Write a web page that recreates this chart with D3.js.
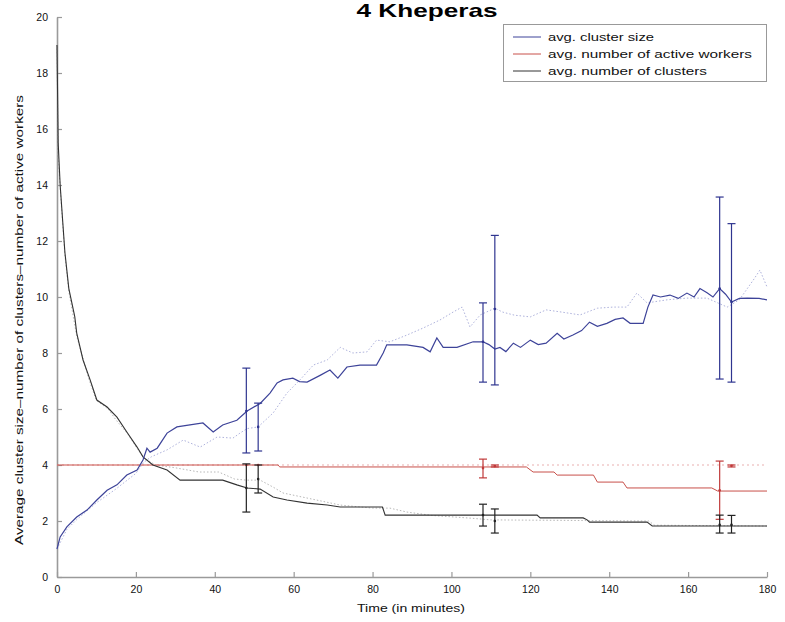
<!DOCTYPE html>
<html>
<head>
<meta charset="utf-8">
<script src="https://cdn.jsdelivr.net/npm/d3@7"></script>
<style>
  html, body { margin: 0; padding: 0; background: #fff; }
  svg { display: block; font-family: "Liberation Sans", Arial, Helvetica, sans-serif; }
</style>
</head>
<body>
<svg id="chart" width="785" height="622"></svg>
<script>
// ---------------- data ----------------
const title = "4 Kheperas";
const xLabel = "Time (in minutes)";
const yLabel = "Average cluster size\u2013number of clusters\u2013number of active workers";
const xTicks = [0, 20, 40, 60, 80, 100, 120, 140, 160, 180];
const yTicks = [0, 2, 4, 6, 8, 10, 12, 14, 16, 18, 20];
const legendLabels = ["avg. cluster size", "avg. number of active workers", "avg. number of clusters"];

// avg. cluster size (solid) [time, value]
const clusterSizeA = [[0,1.0],[0.8,1.43],[2.5,1.79],[5,2.14],[7.6,2.39],[10.1,2.75],[12.7,3.1],[15.2,3.29],[17.7,3.64],[20.3,3.82],[21.8,4.18],[22.8,4.6],[23.6,4.46],[25.4,4.6],[27.9,5.14],[30.4,5.36],[33.7,5.43],[37,5.5],[39.6,5.18],[42,5.43],[45.6,5.6],[48.2,5.93],[51.5,6.2],[54,6.57],[55.8,6.93],[57.3,7.04],[59.8,7.1],[61.5,6.98],[63.4,6.96],[66.7,7.2],[69.2,7.39],[71.2,7.1],[73.5,7.5],[76.8,7.57],[81,7.57],[82.7,8.0],[83.6,8.29],[88.7,8.29],[92.8,8.2],[94.6,8.04],[96.3,8.54],[97.9,8.2],[101.4,8.2],[105.5,8.4],[108,8.4],[109.5,8.3],[111,8.14],[112.3,8.2],[113.8,8.05],[115.7,8.35],[117.5,8.2],[120,8.46],[122,8.3],[124,8.35],[126.8,8.7],[128.5,8.5],[130.8,8.64],[133,8.8],[135,9.1],[137,8.95],[139.4,9.06],[141.5,9.2],[143.5,9.25],[145.3,9.06],[148.6,9.06],[149.8,9.64],[151.1,10.07],[153,10.0],[155.4,10.07],[157.5,9.95],[159.7,10.14],[161.5,10.0],[163,10.3],[164.8,10.15],[166.3,10.0],[168,10.3],[169.5,10.1],[171,9.82],[173,9.95],[175,9.96],[178,9.95],[180,9.9]];
// avg. cluster size (dotted, second run)
const clusterSizeB = [[0,1.0],[2.5,1.7],[5,2.05],[10,2.65],[15,3.15],[20,3.7],[22,4.1],[24,4.3],[27.9,4.54],[32,4.89],[36.3,4.64],[40.6,5.0],[44.6,4.96],[46.4,5.14],[48.2,5.3],[51,5.36],[54.8,5.86],[58.3,6.57],[61.6,7.04],[65,7.57],[68.5,7.75],[71.8,8.2],[75,8.0],[78.6,8.04],[81,8.46],[84.4,8.4],[88.7,8.64],[92.8,8.89],[97.1,9.18],[100.4,9.46],[102.7,9.64],[104.7,8.93],[107.3,9.36],[111,9.6],[113,9.46],[116,9.35],[120,9.29],[124,9.54],[128,9.46],[132.6,9.36],[137,9.6],[141,9.64],[144.5,9.64],[147,10.14],[149.6,9.79],[154.7,9.9],[159.7,9.96],[164.8,9.96],[169.9,9.64],[173,9.9],[176.5,10.6],[178.2,10.96],[180,10.36]];
// avg. number of active workers (solid)
const activeA = [[0,4],[56,4],[56.5,3.93],[119,3.93],[120.7,3.75],[126,3.75],[126.8,3.64],[136,3.64],[137,3.39],[143.5,3.39],[144.5,3.18],[166,3.18],[167.5,3.07],[180,3.07]];
// avg. number of active workers (dotted)
const activeB = [[0,4],[180,4]];
// avg. number of clusters (solid)
const clustersA = [[0,19],[0.3,15.5],[0.8,14],[1.5,12.6],[2,11.6],[3,10.3],[4.5,9.3],[5,8.71],[6.6,7.75],[8.4,7.04],[10.1,6.32],[12.7,6.07],[15.2,5.71],[17.7,5.18],[20.3,4.64],[21.8,4.29],[24.3,4.0],[27.9,3.82],[31.2,3.46],[42,3.46],[45.6,3.29],[48.2,3.18],[51.5,3.14],[54.8,2.86],[58.3,2.75],[63.4,2.64],[68.5,2.57],[71.8,2.5],[82.5,2.5],[83.2,2.21],[121.7,2.21],[122.5,2.11],[133.4,2.11],[134.4,2.04],[135,1.96],[149.6,1.96],[150.9,1.82],[180,1.82]];
// avg. number of clusters (dotted)
const clustersB = [[0,19],[0.3,15],[1,13.5],[2,11.5],[3,10.2],[5,8.6],[8,7.1],[10,6.3],[13,6.0],[15,5.6],[18,5.1],[20.3,4.6],[22,4.25],[25,4.0],[30,3.9],[36,3.75],[41,3.75],[45,3.5],[48,3.46],[51.5,3.46],[54.8,3.21],[57.3,3.0],[63.4,2.82],[71.8,2.57],[80,2.46],[84.4,2.46],[88.7,2.32],[95,2.2],[105,2.1],[110,2.04],[150,2.0],[151.5,1.85],[180,1.82]];

// error bars: time, centre, low, high
const errTimes = [48, 51, 108, 111, 168, 171];
const sizeErrMid  = [5.93, 5.36, 8.4, 9.57, 10.3, 9.82];
const sizeErrLow  = [4.43, 4.5, 6.96, 6.86, 7.07, 6.96];
const sizeErrHigh = [7.46, 6.21, 9.79, 12.2, 13.57, 12.62];
const activeErrMid  = [4.0, 4.0, 3.89, 3.96, 3.1, 3.97];
const activeErrLow  = [4.0, 4.0, 3.54, 3.93, 2.06, 3.93];
const activeErrHigh = [4.0, 4.0, 4.21, 4.0, 4.14, 4.0];
const clustErrMid  = [3.18, 3.5, 2.21, 2.0, 1.86, 1.86];
const clustErrLow  = [2.32, 3.0, 1.82, 1.57, 1.57, 1.57];
const clustErrHigh = [4.04, 4.0, 2.6, 2.43, 2.21, 2.2];

// ---------------- drawing ----------------
const svg = d3.select("#chart");
const x = d3.scaleLinear().domain([0, 180]).range([57, 767]);
const y = d3.scaleLinear().domain([0, 20]).range([577, 17]);

const axisColor = "#9a9a9a";
const colBlue = "#3d4399", colRed = "#c8504a", colBlack = "#333333";
const colBlueDot = "#aeb2dc", colRedDot = "#eab0b0", colBlackDot = "#b8b8b8";

// axes
const xAxis = d3.axisBottom(x).tickValues(xTicks).tickSizeInner(-5).tickSizeOuter(0).tickPadding(9);
const yAxis = d3.axisLeft(y).tickValues(yTicks).tickSizeInner(-5).tickSizeOuter(0).tickPadding(9);
const gx = svg.append("g").attr("transform", "translate(0,577)").call(xAxis);
const gy = svg.append("g").attr("transform", "translate(57,0)").call(yAxis);
[gx, gy].forEach(g => {
  g.select(".domain").attr("stroke", axisColor).attr("stroke-width", 1.6);
  g.selectAll(".tick line").attr("stroke", axisColor).attr("stroke-width", 1.2);
  g.selectAll(".tick text").attr("fill", "#111").attr("font-size", 10.5).attr("font-family", "'Liberation Sans', Arial, sans-serif");
});

const line = d3.line().x(d => x(d[0])).y(d => y(d[1]));

function drawLine(data, color, width, dash) {
  svg.append("path").datum(data)
    .attr("fill", "none").attr("stroke", color).attr("stroke-width", width)
    .attr("stroke-dasharray", dash || null).attr("d", line);
}
// dotted (second run) first
drawLine(activeB, colRedDot, 1.2, "2,3");
drawLine(clustersB, colBlackDot, 1, "1.5,2");
drawLine(clusterSizeB, colBlueDot, 1, "1.5,2");
// solid
drawLine(activeA, colRed, 1, null);
drawLine(clustersA, colBlack, 1.1, null);
drawLine(clusterSizeA, colBlue, 1.2, null);

function drawErr(mid, low, high, color) {
  const g = svg.append("g").attr("stroke", color).attr("stroke-width", 1.2).attr("fill", color);
  errTimes.forEach((t, i) => {
    const cx = x(t);
    if (high[i] - low[i] > 0.001) {
      g.append("line").attr("x1", cx).attr("x2", cx).attr("y1", y(low[i])).attr("y2", y(high[i]));
      g.append("line").attr("x1", cx - 4).attr("x2", cx + 4).attr("y1", y(low[i])).attr("y2", y(low[i]));
      g.append("line").attr("x1", cx - 4).attr("x2", cx + 4).attr("y1", y(high[i])).attr("y2", y(high[i]));
    }
    g.append("circle").attr("cx", cx).attr("cy", y(mid[i])).attr("r", 1.3).attr("stroke", "none");
  });
}
drawErr(activeErrMid, activeErrLow, activeErrHigh, "#c03a3a");
drawErr(clustErrMid, clustErrLow, clustErrHigh, "#222");
drawErr(sizeErrMid, sizeErrLow, sizeErrHigh, "#2f3590");

// title
svg.append("text").attr("x", 427).attr("y", 17).attr("text-anchor", "middle")
  .attr("font-size", 19).attr("font-weight", "bold").attr("fill", "#000")
  .attr("textLength", 141).attr("lengthAdjust", "spacingAndGlyphs").text(title);
// x label
svg.append("text").attr("x", 411).attr("y", 612).attr("text-anchor", "middle")
  .attr("font-size", 11.5).attr("fill", "#111")
  .attr("textLength", 108).attr("lengthAdjust", "spacingAndGlyphs").text(xLabel);
// y label
svg.append("text").attr("transform", "translate(23,320) rotate(-90)").attr("text-anchor", "middle")
  .attr("font-size", 11.5).attr("fill", "#111")
  .attr("textLength", 450).attr("lengthAdjust", "spacingAndGlyphs").text(yLabel);

// legend
const lg = svg.append("g");
lg.append("rect").attr("x", 503.5).attr("y", 24.5).attr("width", 263).attr("height", 57)
  .attr("fill", "#fff").attr("stroke", "#999").attr("stroke-width", 1);
const legendColors = [colBlue, colRed, colBlack];
const legendWidths = [106, 204, 159];
legendLabels.forEach((lab, i) => {
  const yy = 37 + i * 17;
  lg.append("line").attr("x1", 513).attr("x2", 541).attr("y1", yy).attr("y2", yy)
    .attr("stroke", legendColors[i]).attr("stroke-width", 1);
  lg.append("text").attr("x", 548).attr("y", yy + 4).attr("font-size", 11.5).attr("fill", "#111")
    .attr("textLength", legendWidths[i]).attr("lengthAdjust", "spacingAndGlyphs").text(lab);
});
</script>
</body>
</html>
